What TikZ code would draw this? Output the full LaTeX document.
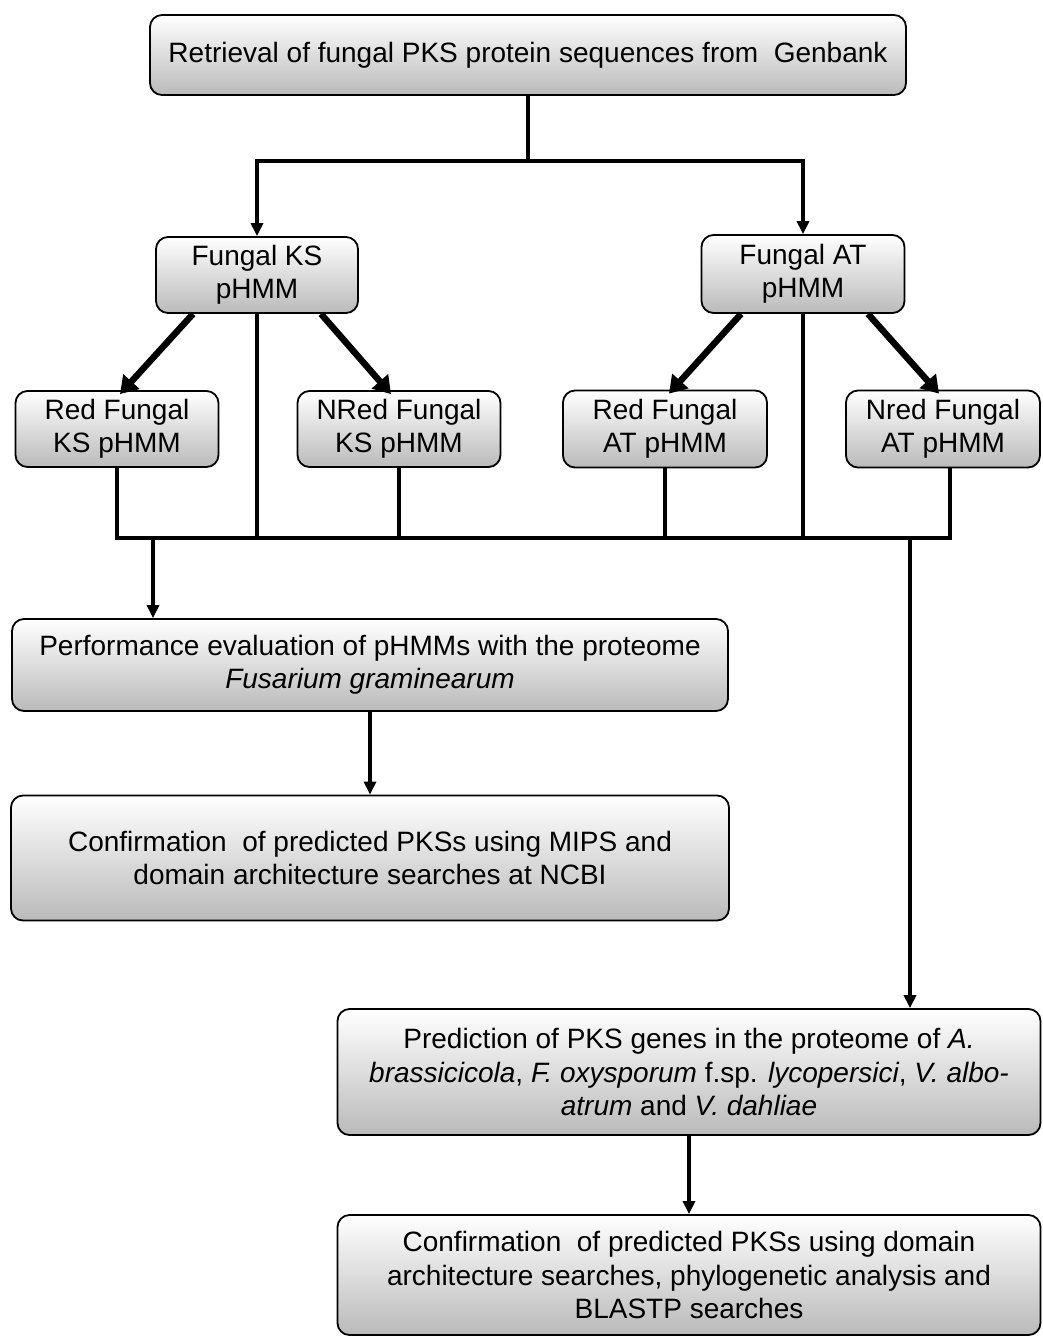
\documentclass[tikz,border=0pt]{standalone}
\usepackage{fontspec}
\setmainfont{Liberation Sans}
\usepackage{tikz}
\usetikzlibrary{arrows.meta,positioning}
\tikzstyle{pbox}=[rectangle,rounded corners=12pt,draw=black,line width=1.8pt,
                  top color=white,bottom color=black!27,inner sep=0pt,
                  align=center,font=\fontsize{28}{33.5}\selectfont]
\tikzstyle{arrow}=[-{Triangle[length=13pt,width=12pt]},line width=3.4pt]
\tikzstyle{bigarrow}=[-{Triangle[length=17pt,width=21pt]},line width=6.5pt]
\tikzstyle{wire}=[line width=3.4pt]

\begin{document}
\begin{tikzpicture}[x=1pt,y=-1pt]
      \useasboundingbox (0,0) rectangle (1043,1336);
      % boxes
      \node[pbox,minimum width=756pt,minimum height=80pt] (top) at (528,55)
           {Retrieval of fungal PKS protein sequences from~ Genbank};
      \node[pbox,minimum width=202pt,minimum height=76pt] (ks) at (257,275) {Fungal KS\\pHMM};
      \node[pbox,minimum width=203pt,minimum height=78pt] (at) at (803,274) {Fungal AT\\pHMM};
      \node[pbox,minimum width=203pt,minimum height=76pt] (redks) at (117,429) {Red Fungal\\KS pHMM};
      \node[pbox,minimum width=203pt,minimum height=76pt] (nredks) at (399,429) {NRed Fungal\\KS pHMM};
      \node[pbox,minimum width=204pt,minimum height=77pt] (redat) at (665,429) {Red Fungal\\AT pHMM};
      \node[pbox,minimum width=194pt,minimum height=77pt] (nredat) at (943,429) {Nred Fungal\\AT pHMM};
      \node[pbox,minimum width=716pt,minimum height=92pt] (perf) at (370,665)
           {Performance evaluation of pHMMs with the proteome\\\textit{Fusarium graminearum}};
      \node[pbox,minimum width=718pt,minimum height=125pt] (conf1) at (370,858)
           {Confirmation~ of predicted PKSs using MIPS and\\domain architecture searches at NCBI};
      \node[pbox,minimum width=703pt,minimum height=126pt] (pred) at (689,1072)
           {Prediction of PKS genes in the proteome of \textit{A.}\\
            \textit{brassicicola}, \textit{F. oxysporum} f.sp. \textit{lycopersici}, \textit{V. albo-}\\
            \textit{atrum} and \textit{V. dahliae}};
      \node[pbox,minimum width=703pt,minimum height=120pt] (conf2) at (689,1275)
           {Confirmation~ of predicted PKSs using domain\\architecture searches, phylogenetic analysis and\\BLASTP searches};
      % junctions
      \coordinate (split) at (528,161);
      \coordinate (bus) at (0,538);
      \coordinate (p1) at (153,538);
      \coordinate (p2) at (910,538);
      % top split
      \draw[wire] (top.south) -- (split);
      \draw[arrow] (split) -| (ks.north);
      \draw[arrow] (split) -| (at.north);
      % thick branches
      \draw[bigarrow] ([xshift=-64pt]ks.south) -- ([xshift=3pt,yshift=-4pt]redks.north);
      \draw[bigarrow] ([xshift=64pt]ks.south) -- ([xshift=-8pt,yshift=-4pt]nredks.north);
      \draw[bigarrow] ([xshift=-62pt]at.south) -- ([xshift=4pt,yshift=-4pt]redat.north);
      \draw[bigarrow] ([xshift=65pt]at.south) -- ([xshift=-4pt,yshift=-4pt]nredat.north);
      % bus
      \draw[wire] (redks.south) -- (redks.south |- bus) -- ([xshift=7pt]nredat.south |- bus)
                  -- ([xshift=7pt]nredat.south);
      \draw[wire] (ks.south) -- (ks.south |- bus);
      \draw[wire] (nredks.south) -- (nredks.south |- bus);
      \draw[wire] (redat.south) -- (redat.south |- bus);
      \draw[wire] (at.south) -- (at.south |- bus);
      \draw[arrow] (p1) -- (p1 |- perf.north);
      \draw[arrow] (p2) -- (p2 |- pred.north);
      \draw[arrow] (perf.south) -- (conf1.north);
      \draw[arrow] (pred.south) -- (conf2.north);
    \end{tikzpicture}
\end{document}
